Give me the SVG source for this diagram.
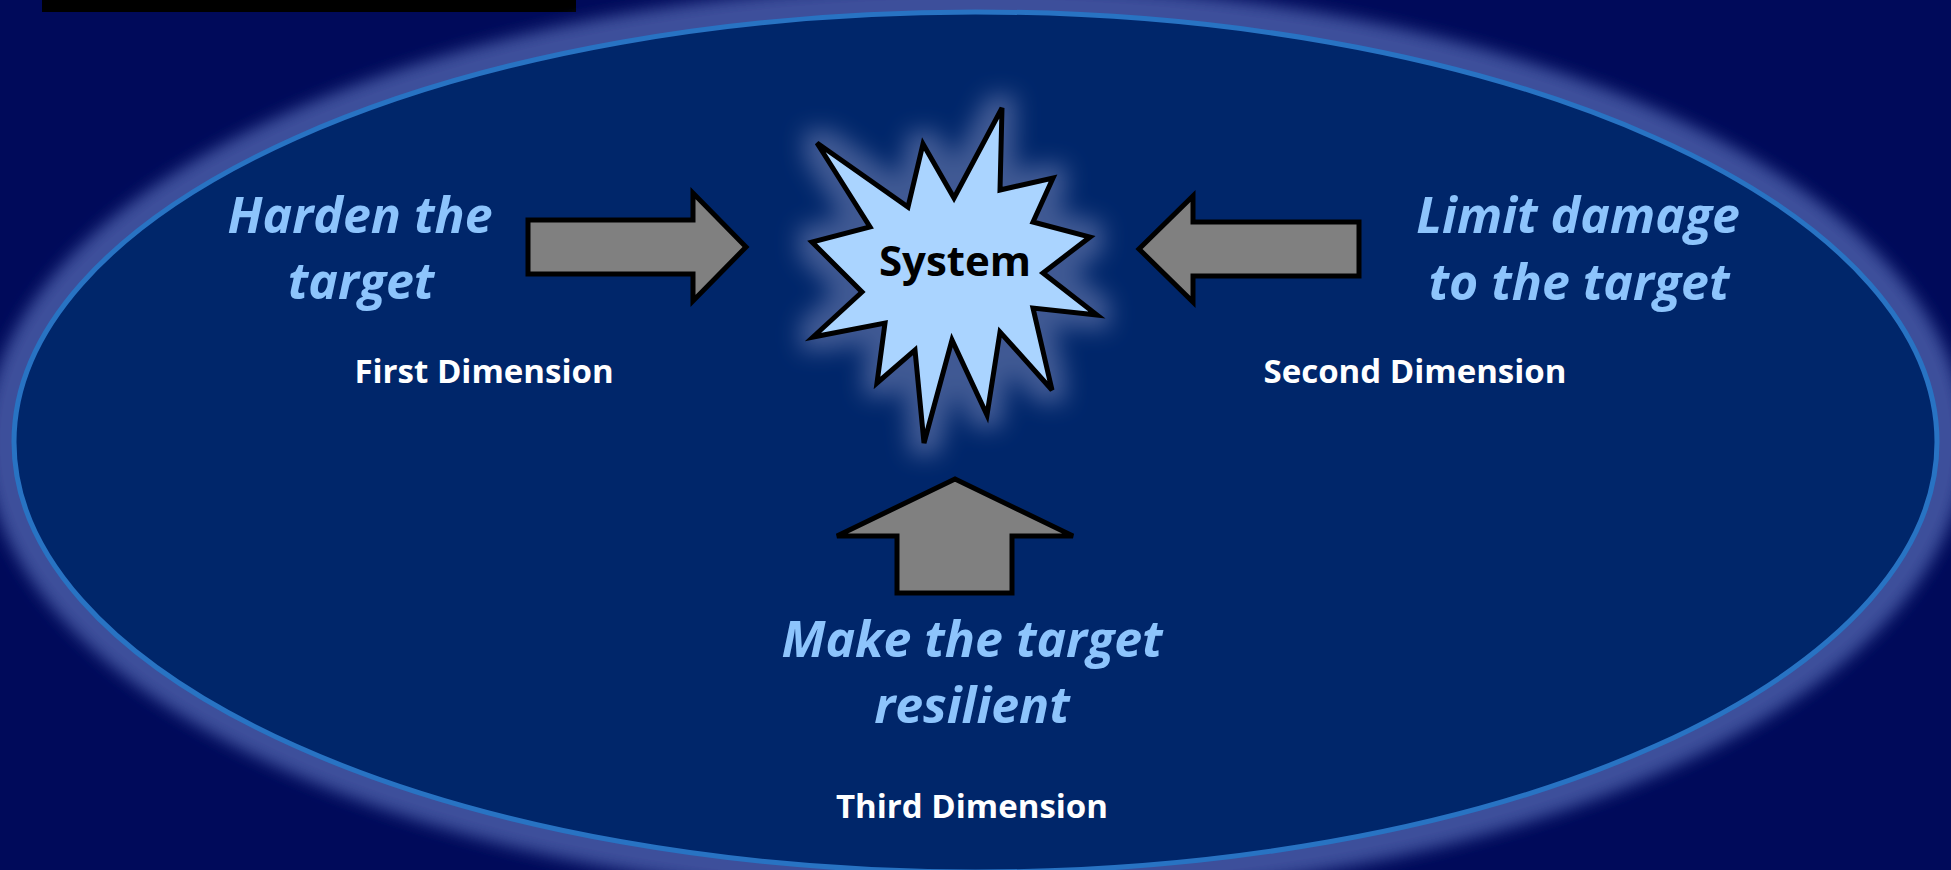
<svg xmlns="http://www.w3.org/2000/svg" width="1951" height="870" viewBox="0 0 1951 870">
  <defs>
    <filter id="ellGlow" x="-10%" y="-10%" width="120%" height="120%">
      <feGaussianBlur stdDeviation="8"/>
    </filter>
    <filter id="starGlow" x="-30%" y="-30%" width="160%" height="160%">
      <feMorphology in="SourceAlpha" operator="dilate" radius="14" result="d"/>
      <feGaussianBlur in="d" stdDeviation="11" result="b"/>
      <feFlood flood-color="#8E98C6" flood-opacity="0.45"/>
      <feComposite in2="b" operator="in"/>
    </filter>
    <style>
      .arrow { fill: #808080; stroke: #000000; stroke-width: 5; stroke-linejoin: miter; }
      .lbl { font-family: "Open Sans", "Liberation Sans", sans-serif; font-weight: bold; font-style: italic; font-size: 50px; fill: #8DC4FC; text-anchor: middle; }
      .dim { font-family: "Open Sans", "Liberation Sans", sans-serif; font-weight: bold; font-size: 33px; fill: #FFFFFF; text-anchor: middle; }
      .sys { font-family: "Open Sans", "Liberation Sans", sans-serif; font-weight: bold; font-size: 42px; fill: #000000; text-anchor: middle; }
    </style>
  </defs>

  <rect x="0" y="0" width="1951" height="870" fill="#000A5A"/>
  <rect x="42" y="0" width="534" height="12" fill="#000000"/>

  <g id="frame">
    <ellipse cx="975.5" cy="442" rx="990" ry="458" fill="#3C509B" filter="url(#ellGlow)"/>
    <ellipse cx="975.5" cy="442" rx="961.5" ry="430" fill="#00266A" stroke="#2873C3" stroke-width="5"/>
  </g>

  <g id="system">
    <polygon filter="url(#starGlow)" points="817,143 908,207 923,144 954,198 1002,108 1000,190 1053,178 1033,222 1090,237 1043,273 1097,315 1033,308 1052,390 1000,332 987,415 952,340 924,443 915,350 877,383 885,323 813,337 862,292 812,242 870,227"/>
    <polygon fill="#AAD4FF" stroke="#000000" stroke-width="5" stroke-linejoin="miter" points="817,143 908,207 923,144 954,198 1002,108 1000,190 1053,178 1033,222 1090,237 1043,273 1097,315 1033,308 1052,390 1000,332 987,415 952,340 924,443 915,350 877,383 885,323 813,337 862,292 812,242 870,227"/>
    <text class="sys" x="955" y="276">System</text>
  </g>

  <g id="connectors">
    <polygon class="arrow" points="528,220 693,220 693,193 746,247 693,301 693,274 528,274"/>
    <polygon class="arrow" points="1359,222 1193,222 1193,196 1139,249 1193,302 1193,276 1359,276"/>
    <polygon class="arrow" points="955,479 1073,536 1012,536 1012,593 897,593 897,536 837,536"/>
  </g>

  <g id="first">
    <text class="lbl" x="360" y="233">Harden the</text>
    <text class="lbl" x="361" y="299">target</text>
    <text class="dim" x="484" y="383">First Dimension</text>
  </g>

  <g id="second">
    <text class="lbl" x="1578" y="233">Limit damage</text>
    <text class="lbl" x="1579" y="300">to the target</text>
    <text class="dim" x="1415" y="383">Second Dimension</text>
  </g>

  <g id="third">
    <text class="lbl" x="972" y="657">Make the target</text>
    <text class="lbl" x="972" y="723">resilient</text>
    <text class="dim" x="972" y="818">Third Dimension</text>
  </g>
</svg>
